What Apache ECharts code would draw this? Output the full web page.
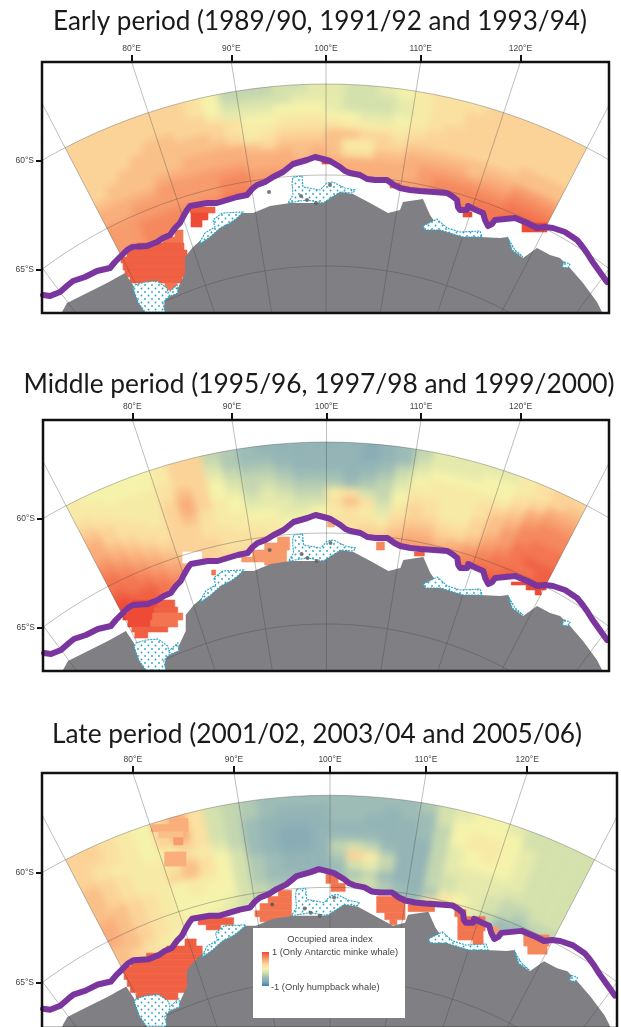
<!DOCTYPE html>
<html><head><meta charset="utf-8">
<style>html,body{margin:0;padding:0;background:#fff}#c{width:621px;height:1027px}</style>
<script src="https://cdn.jsdelivr.net/npm/echarts@6/dist/echarts.min.js"></script>
</head><body><div id="c"></div>
<script>
// Occupied area index in tenths; rows = latitude 60S..66S by 0.5, columns = longitude 70E..128E by 2
const titles = ['Early period (1989/90, 1991/92 and 1993/94)','Middle period (1995/96, 1997/98 and 1999/2000)','Late period (2001/02, 2003/04 and 2005/06)'];
const lonTicks = [80,90,100,110,120];
const latTicks = [60,65];
const fieldEarly = [
[3,3,3,3,3,3,3,2,0,-3,-3,-3,-2,-2,-1,-1,-2,-2,-1,0,1,2,2,2,3,3,3,3,3,3],
[3,3,3,3,3,3,3,2,0,-2,-2,-2,-2,-1,-1,-1,-2,-2,-2,-1,1,2,2,3,3,3,3,3,3,3],
[3,3,3,3,3,3,3,3,1,-1,-1,-1,0,0,0,-1,-2,-2,-2,-1,1,2,2,3,3,3,3,3,3,3],
[3,3,3,3,4,4,3,3,3,2,0,0,1,1,1,0,0,-1,-1,0,1,2,3,3,3,3,3,3,3,3],
[3,3,3,4,4,4,4,4,3,2,1,1,2,2,2,2,1,1,1,1,2,3,3,3,3,3,3,3,3,3],
[3,3,4,4,4,4,4,4,4,3,1,2,3,3,3,4,4,3,3,2,3,3,3,3,3,3,3,4,4,4],
[3,4,4,4,4,4,5,5,5,5,4,3,4,4,4,4,1,1,3,3,4,4,4,4,4,4,4,4,4,4],
[4,4,4,4,5,5,5,5,5,5,5,5,5,4,5,4,2,2,4,4,5,5,5,5,4,5,5,6,6,6],
[5,5,5,5,6,6,6,6,6,6,5,5,5,5,5,5,5,5,5,5,5,6,6,6,6,6,6,7,7,7],
[5,5,6,6,6,6,6,6,7,7,6,6,6,5,5,5,5,5,5,5,5,6,7,7,7,7,7,8,8,8],
[6,6,6,6,6,6,6,6,7,7,6,6,6,5,5,5,5,5,5,5,6,6,7,7,7,8,8,8,9,9],
[6,6,7,7,7,7,7,7,8,8,7,7,7,6,6,6,6,6,6,6,6,6,7,8,8,8,8,9,9,9],
[6,6,7,7,7,7,8,8,8,8,8,8,7,7,7,7,7,7,7,7,7,7,8,8,8,8,8,8,8,8]
];
const fieldMiddle = [
[1,0,0,0,0,1,3,3,-3,-4,-5,-6,-6,-6,-6,-6,-6,-7,-6,-5,-3,-1,-1,-1,-1,-1,1,2,3,3],
[1,1,0,0,0,1,3,3,-2,-4,-5,-5,-6,-6,-6,-6,-6,-7,-6,-5,-2,-1,-1,-1,0,0,1,2,3,4],
[2,1,1,1,1,2,3,3,-1,-3,-4,-4,-5,-6,-6,-6,-6,-6,-5,-3,-1,0,0,0,0,0,2,3,5,5],
[3,2,1,1,1,2,4,3,0,-2,-3,-3,-4,-5,-5,-5,-6,-5,-4,-2,0,1,1,1,1,1,3,5,6,6],
[4,3,2,1,1,3,5,3,0,-1,-3,-2,-3,-4,-4,-4,-5,-4,-3,-1,1,1,1,1,2,3,4,6,7,7],
[5,3,2,2,1,3,5,3,1,0,-2,-1,-2,-3,-3,1,2,-2,-3,0,2,2,1,1,2,4,5,7,7,7],
[5,4,3,2,2,3,4,2,1,0,-1,-1,-1,-2,-2,2,4,2,-2,1,3,2,1,1,3,4,6,7,8,8],
[6,5,4,3,2,3,3,2,1,1,0,0,-1,-1,0,1,2,1,-1,2,3,3,2,2,3,5,6,8,8,8],
[7,6,5,4,3,3,3,2,2,1,1,1,0,0,1,2,2,2,1,3,4,4,3,3,4,6,7,8,9,9],
[8,7,6,5,4,3,3,3,2,2,2,1,1,1,2,2,2,3,3,4,5,5,4,5,6,7,8,8,8,9],
[8,8,7,6,5,4,3,3,2,2,2,2,2,2,2,3,3,3,4,5,6,6,6,6,7,8,8,9,9,9],
[9,8,8,7,6,5,4,3,3,3,3,3,3,3,3,3,3,4,5,6,7,7,7,7,8,9,9,9,10,10],
[10,9,9,8,7,7,6,5,4,4,4,4,4,4,4,4,4,5,6,7,8,8,8,8,9,10,10,10,10,10]
];
const fieldLate = [
[3,3,2,1,0,3,5,2,-2,-3,-4,-5,-5,-5,-5,-5,-5,-5,-5,-5,-4,-2,-1,0,0,-1,-2,-2,-2,-2],
[3,3,2,1,0,3,5,2,-2,-3,-4,-5,-6,-6,-6,-5,-5,-5,-6,-5,-5,-2,0,0,0,0,-2,-2,-2,-2],
[3,2,2,1,0,3,5,2,-2,-3,-5,-6,-6,-6,-6,-5,-5,-6,-6,-6,-5,-3,0,1,1,0,-1,-2,-2,-2],
[3,2,1,1,0,1,3,2,-2,-3,-5,-6,-7,-7,-6,-6,-6,-6,-6,-6,-5,-3,0,1,1,0,-1,-2,-2,-2],
[4,3,2,1,1,1,2,1,-1,-3,-5,-6,-7,-7,-6,-5,-5,-5,-6,-6,-6,-3,-1,0,1,0,-1,-2,-2,-2],
[4,3,2,1,1,2,4,2,0,-2,-5,-6,-7,-7,-6,-3,-2,-3,-5,-6,-6,-3,-1,0,0,0,-1,-2,-2,-2],
[4,3,2,1,1,3,4,2,0,-2,-4,-5,-6,-6,-6,-4,3,1,-3,-6,-6,-3,-1,-1,-1,-1,-1,-2,-2,-2],
[4,4,3,2,1,0,1,1,0,-2,-4,-5,-6,-6,-6,-5,-2,-1,-3,-6,-6,-3,-2,-1,-1,-1,-2,-2,-2,-2],
[5,4,3,2,1,0,1,0,0,-2,-4,-5,-5,-6,-6,-5,-4,-3,-5,-6,-6,-3,-2,-1,-1,-2,-3,-3,-2,-2],
[5,4,3,2,1,0,0,0,0,-2,-3,-4,-5,-6,-6,-5,-3,-2,-4,-5,-6,-4,1,0,-1,-2,-3,-4,-3,-3],
[5,4,3,2,1,0,0,0,-1,-2,-3,-4,-5,-5,-5,-5,-4,-4,-4,-5,-5,2,2,1,-1,-3,-5,-5,-4,-3],
[4,4,3,2,1,1,0,-1,-1,-2,-3,-4,-4,-4,-4,-4,-4,-4,-4,-4,-4,-2,-1,-1,-2,-3,-5,-5,-4,-3],
[4,3,2,1,0,0,0,-1,-1,-2,-3,-3,-3,-3,-3,-3,-3,-3,-3,-3,-3,-3,-2,-2,-2,-3,-4,-4,-3,-3]
];
// Blocky cells: [index, yTop, yBottom, xLeft, xRight] in map units; null index = no data
const patchesEarly = [
[8,168,175,133,141],[8,175,181,121,141],[9,181,188,95,142],[9,188,195,85,145],[9,195,201,79,145],
[9,201,208,81,143],[9,208,215,83,143],[9,215,221,88,140],[8,221,228,123,135],
[9,145,151,148,173],[10,151,158,149,166],[10,158,165,149,160],[10,150,155,421,430],[10,161,170,480,505],[10,99,102,280,288],[9,121,126,348,358]
];
const patchesMiddle = [
[null,132,143,140,159],
[10,180,187,90,115],[9,180,187,115,132],[10,187,193,85,112],[9,187,193,112,135],[10,193,200,80,110],[8,193,200,110,140],
[10,200,207,85,108],[8,200,207,108,135],[9,207,212,89,125],[9,212,218,92,105],[8,150,155,169,173],
[6,117,123,235,247],[6,123,130,222,247],[6,130,137,210,244],[6,137,142,199,244],[6,142,145,222,240],
[5,102,107,285,292],[7,122,130,334,342],[9,132,136,372,382],[10,162,165,469,504],[10,165,170,484,504],[10,170,175,493,499]
];
const patchesLate = [
[5,45,52,126,144],[5,51,58,108,144],[4,58,64,115,139],[6,64,71,130,139],[5,78,92,121,142],
[9,164,171,141,152],[9,171,178,123,158],[9,178,184,103,158],[9,184,191,88,151],[9,191,198,80,148],[9,198,204,81,143],
[9,204,211,84,143],[9,211,217,87,143],[9,217,224,93,134],[9,143,150,154,189],[9,150,155,162,176],
[8,116,122,233,246],[8,122,129,223,246],[8,129,136,215,246],[8,136,142,210,246],[8,142,147,215,241],
[8,100,109,280,292],[8,109,117,285,299],[8,122,129,330,358],[8,129,138,330,358],[8,138,145,338,358],[8,145,150,343,350],
[8,130,137,361,387],[8,135,142,407,418],[8,142,156,410,437],[8,156,165,410,435],[8,165,170,425,435],[6,152,158,443,450],
[7,160,171,475,500],[7,171,179,479,498]
];
const iceEdge = [[1,233],[8,234],[18,230],[26,223],[31,219],[43,215],[55,209],[68,206],[73,200],[78,195],[85,188],[90,185],[105,184],[115,180],[121,176],[128,173],[133,166],[138,161],[141,155],[145,148],[148,144],[165,141],[175,141],[185,138],[195,135],[205,133],[210,127],[215,123],[223,120],[231,115],[241,110],[251,102],[265,98],[273,95],[281,97],[288,99],[298,105],[303,109],[308,111],[318,113],[325,117],[333,118],[345,118],[352,123],[358,126],[368,128],[378,129],[392,130],[405,131],[410,134],[415,138],[416,145],[418,148],[425,148],[426,144],[434,148],[441,151],[443,158],[446,164],[450,162],[453,158],[463,157],[473,156],[485,161],[495,166],[503,165],[511,166],[523,170],[535,178],[540,184],[545,191],[550,199],[555,206],[560,213],[565,220]];
const landWest = [[20,250],[25,241],[41,233],[65,221],[83,211],[91,223],[96,240],[103,250],[103,253],[20,253]];
const landEast = [[121,253],[121,250],[123,238],[135,228],[143,211],[143,195],[151,185],[165,173],[178,161],[201,151],[211,151],[228,144],[248,141],[278,141],[286,136],[298,130],[311,132],[328,141],[346,151],[358,148],[361,140],[381,137],[388,153],[393,160],[381,165],[393,165],[418,171],[438,175],[458,176],[466,175],[470,188],[481,196],[495,186],[508,193],[518,196],[528,206],[541,221],[555,240],[560,250],[561,253]];
const iceShelves = [
[[93,223],[103,220],[115,219],[125,226],[126,231],[135,223],[136,231],[126,235],[121,241],[123,250],[103,250],[96,240],[91,226]],
[[158,180],[163,171],[173,165],[171,158],[180,151],[201,150],[195,156],[188,161],[178,166],[168,175],[158,182]],
[[251,115],[260,114],[261,125],[278,128],[285,121],[291,120],[303,126],[313,128],[311,131],[298,130],[281,141],[265,138],[246,141],[251,133],[250,121]],
[[381,164],[395,157],[405,166],[418,170],[438,169],[440,175],[421,175],[398,168],[383,168]],
[[522,200],[528,202],[526,206],[520,205]],
[[467,178],[473,188],[481,195],[470,188]]
];
const islands = [[227,130],[259,134],[265,138],[288,123],[274,141]];
const ramp = ['#3a80bb','#84a9b5','#9dbcb6','#cddcae','#f5f3ab','#fbdc9f','#f9ae7b','#f47f56','#ee4b36'];

const fields = [fieldEarly, fieldMiddle, fieldLate];
const patches = [patchesEarly, patchesMiddle, patchesLate];
const grids = [{left:42,top:62,width:567,height:251},{left:43,top:420,width:566,height:251},{left:42,top:773,width:575,height:255}];
const titleY = [4,367,717], titleX = [315,314,312], titleSize=[26.1,26.3,26.3];

function project(lon,lat){const t=(lon-100)*0.915*Math.PI/180,r=566-18.2*(lat-60);return [284+r*Math.sin(t),588-r*Math.cos(t)];}
function xAtTop(lon){return 284+588*Math.tan((lon-100)*0.915*Math.PI/180);}
function yAtLeft(lat){const r=566-18.2*(lat-60);return 588-Math.sqrt(r*r-284*284);}
const xVals=lonTicks.map(xAtTop), yVals=latTicks.map(yAtLeft);

// white surround that gives the sampled sector its outline
const surround=[[-5,-5],[572,-5],[572,256],project(130,68),project(130,60)];
for(let lon=128;lon>=70;lon-=2) surround.push(project(lon,60));
surround.push(project(70,68),[-5,256]);

const pat=document.createElement('canvas');pat.width=7;pat.height=7;
(function(){const c=pat.getContext('2d');c.fillStyle='#fff';c.fillRect(0,0,7,7);c.fillStyle='#2aa5c5';[[1.5,1.5],[5,5]].forEach(p=>{c.beginPath();c.arc(p[0],p[1],0.9,0,7);c.fill();});})();

const font='"Liberation Sans",Arial,sans-serif';
function polySeries(i,name,z,arr,style){
  return {type:'custom',name,xAxisIndex:i,yAxisIndex:i,zlevel:1,z,clip:true,silent:true,animation:false,data:arr,
    renderItem(params,api){ if(params.dataIndex>0) return null;
      return {type:'polygon',shape:{points:arr.map(p=>api.coord(p))},style};}};
}
const series=[], xAxis=[], yAxis=[], heatIdx=[];
grids.forEach((g,i)=>{
  xAxis.push({type:'value',gridIndex:i,position:'top',zlevel:1,min:0,max:567,splitLine:{show:false},axisLine:{show:false},
    axisTick:{show:true,length:7,inside:false,lineStyle:{color:'#111',width:2},customValues:xVals},
    axisLabel:{show:true,margin:9,fontSize:8.5,color:'#444',fontFamily:font,customValues:xVals,
      formatter:v=>{let b=0;xVals.forEach((x,k)=>{if(Math.abs(x-v)<Math.abs(xVals[b]-v))b=k;});return lonTicks[b]+'°E';}}});
  yAxis.push({type:'value',gridIndex:i,inverse:true,zlevel:1,min:0,max:251,splitLine:{show:false},axisLine:{show:false},
    axisTick:{show:true,length:6,inside:false,lineStyle:{color:'#111',width:2},customValues:yVals},
    axisLabel:{show:true,margin:8,fontSize:8.5,color:'#444',fontFamily:font,customValues:yVals,
      formatter:v=>{let b=0;yVals.forEach((y,k)=>{if(Math.abs(y-v)<Math.abs(yVals[b]-v))b=k;});return latTicks[b]+'°S';}}});
  // gridded index (bottom layer, softened as in the source image)
  const cells=[];
  fields[i].forEach((row,r)=>row.forEach((v,c)=>cells.push([v,70+2*c,60+0.5*r])));
  heatIdx.push(series.length);
  series.push({type:'custom',name:'index '+i,xAxisIndex:i,yAxisIndex:i,zlevel:0,z:1,clip:true,silent:true,animation:false,data:cells,
    renderItem(params,api){
      const lo=api.value(1),la=api.value(2),col=api.visual('color');
      const w=lo===70?68.5:lo, e=lo===128?131.5:lo+2, n=la===60?59:la, s=la===66?68:la+0.5, m=(w+e)/2;
      const pts=[[w,n],[m,n],[e,n],[e,s],[m,s],[w,s]].map(p=>api.coord(project(p[0],p[1])));
      return {type:'polygon',shape:{points:pts},style:{fill:col,stroke:col,lineWidth:0.6}};
    }});
  series.push(polySeries(i,'mask '+i,2,iceEdge.concat([[568,222],[568,253],[-1,253],[-1,233]]),{fill:'#fff'}));
  series.push(polySeries(i,'surround '+i,2,surround,{fill:'#fff'}));
  heatIdx.push(series.length);
  series.push({type:'custom',name:'patch '+i,xAxisIndex:i,yAxisIndex:i,zlevel:1,z:3,clip:true,silent:true,animation:false,data:patches[i],
    renderItem(params,api){
      const a=api.coord([api.value(3),api.value(1)]),b=api.coord([api.value(4),api.value(2)]);
      const none=patches[i][params.dataIndex][0]===null, col=none?'#fff':api.visual('color');
      return {type:'rect',shape:{x:a[0],y:a[1],width:b[0]-a[0],height:b[1]-a[1]},style:{fill:col,stroke:col,lineWidth:0.6}};
    }});
  series.push(polySeries(i,'land w '+i,5,landWest,{fill:'#808084'}));
  series.push(polySeries(i,'land e '+i,5,landEast,{fill:'#808084'}));
  series.push({type:'custom',name:'graticule '+i,xAxisIndex:i,yAxisIndex:i,zlevel:1,z:6,clip:true,silent:true,animation:false,data:[0],
    renderItem(params,api){
      const kids=[];
      for(let lon=60;lon<=140;lon+=10){kids.push({type:'polyline',shape:{points:[api.coord(project(lon,50)),api.coord(project(lon,78))]},style:{fill:null,stroke:'rgba(70,70,70,.5)',lineWidth:0.7}});}
      [60,65,70].forEach(lat=>{const pts=[];for(let lon=56;lon<=144;lon+=2)pts.push(api.coord(project(lon,lat)));
        kids.push({type:'polyline',shape:{points:pts},style:{fill:null,stroke:'rgba(70,70,70,.5)',lineWidth:0.7}});});
      return {type:'group',children:kids};
    }});
  iceShelves.forEach((s,k)=>series.push(polySeries(i,'shelf '+i+'-'+k,7,s,{fill:{image:pat,repeat:'repeat'},stroke:'#2aa5c5',lineWidth:1.1,lineDash:[2,1]})));
  series.push({type:'scatter',name:'islands '+i,xAxisIndex:i,yAxisIndex:i,zlevel:1,z:8,silent:true,animation:false,data:islands,symbolSize:4,itemStyle:{color:'#58585c'}});
  series.push({type:'line',name:'ice edge '+i,xAxisIndex:i,yAxisIndex:i,zlevel:1,z:9,silent:true,animation:false,data:iceEdge,showSymbol:false,smooth:false,
    lineStyle:{color:'#7b359f',width:6,join:'round',cap:'round'}});
  series.push({type:'custom',name:'frame '+i,xAxisIndex:i,yAxisIndex:i,zlevel:1,z:10,clip:false,silent:true,animation:false,data:[0],
    renderItem(){return {type:'rect',shape:{x:g.left,y:g.top,width:g.width,height:g.height},style:{fill:null,stroke:'#111',lineWidth:2.5}};}});
});

const legendStops=ramp.slice().reverse().map((c,k)=>({offset:k/(ramp.length-1),color:c}));
const chart=echarts.init(document.getElementById('c'),null,{renderer:'canvas'});
chart.setOption({
  backgroundColor:'#fff',animation:false,
  title:titles.map((t,i)=>({text:t,zlevel:1,left:titleX[i],top:titleY[i],textAlign:'center',textStyle:{fontFamily:'Lato,"Open Sans",sans-serif',fontWeight:'normal',fontSize:titleSize[i],color:'#1a1a1a'}})),
  grid:grids.map(g=>Object.assign({containLabel:false},g)),
  xAxis,yAxis,series,
  visualMap:{show:false,type:'continuous',min:-10,max:10,dimension:0,seriesIndex:heatIdx,inRange:{color:ramp}},
  graphic:[
    {type:'rect',zlevel:1,z:100,shape:{x:253,y:928,width:152,height:90},style:{fill:'#fff'}},
    {type:'rect',zlevel:1,z:101,shape:{x:262,y:952,width:7,height:34},style:{fill:{type:'linear',x:0,y:0,x2:0,y2:1,colorStops:legendStops}}},
    {type:'text',zlevel:1,z:101,style:{x:330,y:939,text:'Occupied area index',fill:'#444',font:'9.3px '+font,textAlign:'center',textVerticalAlign:'middle'}},
    {type:'text',zlevel:1,z:101,style:{x:272,y:952,text:'1 (Only Antarctic minke whale)',fill:'#444',font:'9.3px '+font,textVerticalAlign:'middle'}},
    {type:'text',zlevel:1,z:101,style:{x:271,y:987,text:'-1 (Only humpback whale)',fill:'#444',font:'9.3px '+font,textVerticalAlign:'middle'}}
  ]
});
// soften only the bottom layer, which holds the gridded index
const layer=chart.getZr().painter.getLayer(0);
if(layer&&layer.dom) layer.dom.style.filter='blur(3.5px)';
</script></body></html>
